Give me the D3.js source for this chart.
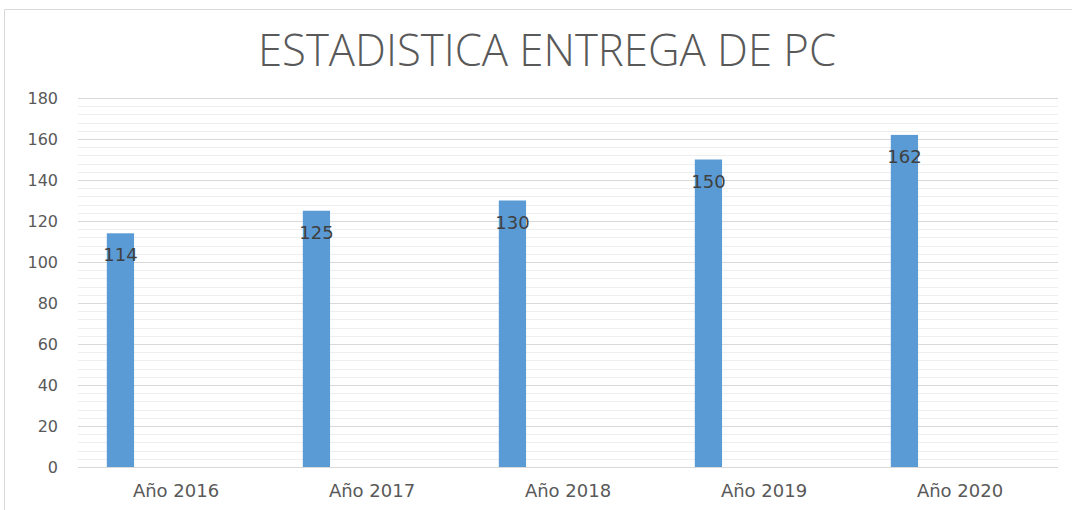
<!DOCTYPE html>
<html>
<head>
<meta charset="utf-8">
<script src="https://cdn.jsdelivr.net/npm/d3@7"></script>
<style>
  body { margin: 0; background: #fff; }
  svg { display: block; }
</style>
</head>
<body>
<div id="chart"></div>
<script>
var title = "ESTADISTICA ENTREGA DE PC";
var categories = ["Año 2016", "Año 2017", "Año 2018", "Año 2019", "Año 2020"];
var values = [114, 125, 130, 150, 162];
var yTicks = [0, 20, 40, 60, 80, 100, 120, 140, 160, 180];

var W = 1072, H = 510;
var margin = {top: 98, left: 78, right: 14, bottom: 43},
    width  = W - margin.left - margin.right,
    height = H - margin.top - margin.bottom;

var svg = d3.select("#chart").append("svg")
    .attr("width", W)
    .attr("height", H);

// outer frame (top and left edges visible)
svg.append("path")
    .attr("d", "M4.5," + H + "V9.5H" + W)
    .attr("fill", "none")
    .attr("stroke", "#d9d9d9")
    .attr("stroke-width", 1);

svg.append("text")
    .attr("x", 547)
    .attr("y", 66)
    .attr("text-anchor", "middle")
    .attr("font-family", "Open Sans")
    .attr("font-weight", 300)
    .attr("font-size", 45)
    .attr("fill", "#595959")
    .attr("textLength", 578)
    .attr("lengthAdjust", "spacingAndGlyphs")
    .text(title);

var g = svg.append("g").attr("transform", "translate(" + margin.left + "," + margin.top + ")");

var x = d3.scaleBand().domain(categories).range([0, width]).padding(0);
var y = d3.scaleLinear().domain([0, 180]).range([height, 0]);

// minor gridlines every 4
var minor = d3.range(0, 181, 4).filter(function(d) { return d % 20 !== 0; });
g.selectAll(".minor").data(minor).enter().append("line")
    .attr("x1", 0).attr("x2", width)
    .attr("y1", function(d) { return Math.round(y(d)) + 0.5; })
    .attr("y2", function(d) { return Math.round(y(d)) + 0.5; })
    .attr("stroke", "#eeeeee");

g.selectAll(".major").data(yTicks).enter().append("line")
    .attr("x1", 0).attr("x2", width)
    .attr("y1", function(d) { return Math.round(y(d)) + 0.5; })
    .attr("y2", function(d) { return Math.round(y(d)) + 0.5; })
    .attr("stroke", "#d9d9d9");

// y axis labels
g.append("g")
    .call(d3.axisLeft(y).tickValues(yTicks).tickSize(0).tickPadding(20))
    .call(function(a) { a.select(".domain").remove(); })
    .selectAll("text")
      .attr("font-family", "DejaVu Sans")
      .attr("font-size", 16)
      .attr("fill", "#595959");

// x axis labels
g.append("g")
    .attr("transform", "translate(0," + height + ")")
    .call(d3.axisBottom(x).tickSize(0).tickPadding(17))
    .call(function(a) { a.select(".domain").remove(); })
    .selectAll("text")
      .attr("font-family", "DejaVu Sans")
      .attr("font-size", 18)
      .attr("fill", "#595959");

var barOff = x.bandwidth() * 0.147,
    barW   = x.bandwidth() * 0.139;

g.selectAll(".bar").data(values).enter().append("rect")
    .attr("x", function(d, i) { return x(categories[i]) + barOff; })
    .attr("y", function(d) { return y(d); })
    .attr("width", barW)
    .attr("height", function(d) { return height - y(d); })
    .attr("fill", "#5b9bd5");

g.selectAll(".lbl").data(values).enter().append("text")
    .attr("x", function(d, i) { return x(categories[i]) + barOff + barW / 2; })
    .attr("y", function(d) { return y(d) + 28; })
    .attr("text-anchor", "middle")
    .attr("font-family", "DejaVu Sans")
    .attr("font-size", 18)
    .attr("fill", "#404040")
    .text(function(d) { return d; });
</script>
</body>
</html>
